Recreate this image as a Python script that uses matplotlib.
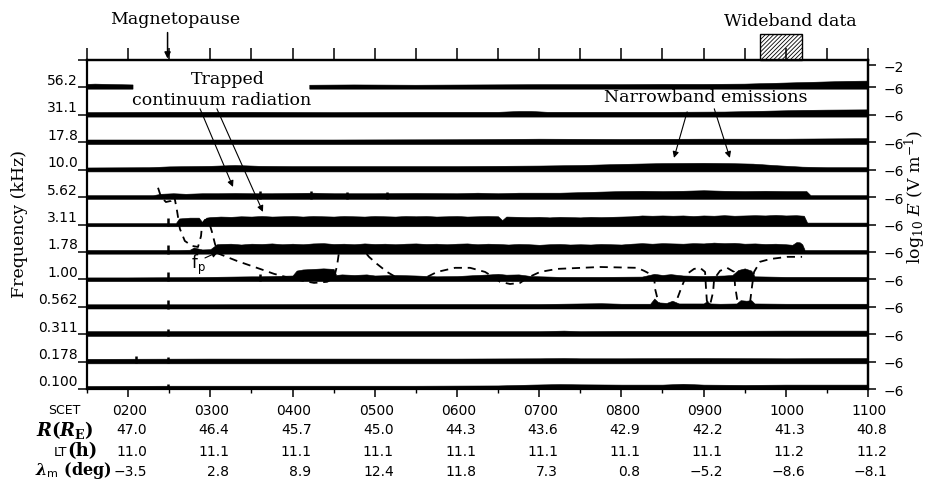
import numpy as np
import matplotlib as mpl
import matplotlib.pyplot as plt
import matplotlib.transforms as mtransforms
from matplotlib.patches import Rectangle

mpl.rcParams['mathtext.fontset'] = 'custom'
mpl.rcParams['mathtext.rm'] = 'DejaVu Serif:bold'
mpl.rcParams['mathtext.it'] = 'DejaVu Serif:italic:bold'
mpl.rcParams['mathtext.bf'] = 'DejaVu Serif:bold'
mpl.rcParams['mathtext.sf'] = 'DejaVu Sans'
mpl.rcParams['hatch.linewidth'] = 0.6

nan = np.nan

# channel centre frequencies (kHz), top row first
freq_labels = ['56.2', '31.1', '17.8', '10.0', '5.62', '3.11', '1.78', '1.00',
               '0.562', '0.311', '0.178', '0.100']

# ephemeris rows under the time axis
scet_hours = [2, 3, 4, 5, 6, 7, 8, 9, 10, 11]
scet_labels = ['0200', '0300', '0400', '0500', '0600', '0700', '0800', '0900', '1000', '1100']
r_re = [47.0, 46.4, 45.7, 45.0, 44.3, 43.6, 42.9, 42.2, 41.3, 40.8]
lt_h = [11.0, 11.1, 11.1, 11.1, 11.1, 11.1, 11.1, 11.1, 11.2, 11.2]
lam_m = [-3.5, 2.8, 8.9, 12.4, 11.8, 7.3, 0.8, -5.2, -8.6, -8.1]

# log10 E (V/m) envelope of each channel (time in hours SCET)
t56 = [1.5, 1.6, 1.75, 1.9, 2.06, 3.0, 4.21, 4.75, 5.5, 6.25, 7.0, 7.5, 8.0, 8.5, 9.0,
       9.5, 9.75, 10.0, 10.25, 10.5, 10.75, 11.0]
e56 = [-5.45, -5.4, -5.45, -5.5, -5.55, nan, -5.6, -5.55, -5.6, -5.55, -5.5, -5.5, -5.5,
       -5.45, -5.45, -5.4, -5.3, -5.2, -5.1, -5.0, -4.9, -4.85]

t31 = [1.5, 2.5, 3.5, 4.5, 5.5, 6.5, 6.75, 6.9, 7.1, 7.5, 8.5, 9.25, 9.6, 9.9, 10.2, 10.5, 11.0]
e31 = [-5.5, -5.45, -5.45, -5.5, -5.45, -5.45, -5.3, -5.3, -5.45, -5.45, -5.45, -5.4,
       -5.3, -5.2, -5.1, -5.05, -5.0]

t17 = [1.5, 3.0, 4.5, 6.0, 6.5, 7.0, 8.0, 9.0, 10.0, 10.5, 11.0]
e17 = [-5.5, -5.5, -5.5, -5.45, -5.4, -5.35, -5.4, -5.35, -5.35, -5.3, -5.25]

t10 = [1.5, 2.25, 2.5, 3.0, 3.3, 3.6, 4.0, 5.0, 6.0, 6.5, 7.0, 7.5, 7.75, 8.0, 8.5, 9.0,
       9.3, 9.6, 9.9, 10.2, 10.5, 11.0]
e10 = [-5.6, -5.55, -5.4, -5.3, -5.15, -5.3, -5.35, -5.35, -5.35, -5.3, -5.25, -5.15,
       -5.05, -4.95, -4.8, -4.75, -4.8, -4.9, -5.2, -5.45, -5.55, -5.55]

t5p6 = [1.5, 2.3, 2.4, 2.55, 2.7, 2.9, 3.1, 3.3, 3.5, 3.75, 4.0, 4.25, 4.5, 5.0, 5.5, 6.0,
        6.25, 6.5, 6.75, 7.0, 7.25, 7.5, 7.75, 8.0, 8.25, 8.5, 8.75, 9.0, 9.25, 9.5, 9.75,
        10.0, 10.25, 10.3, 11.0]
e5p6 = [-5.65, -5.65, -5.4, -5.3, -5.4, -5.3, -5.3, -5.25, -5.3, -5.3, -5.25, -5.2, -5.3,
        -5.3, -5.25, -5.3, -5.2, -5.3, -5.2, -5.2, -5.2, -5.1, -5.0, -4.9, -4.85, -4.9,
        -4.85, -4.75, -4.85, -4.9, -4.85, -4.9, -4.9, -5.65, -5.65]

t3p1 = [1.5, 2.0, 2.58, 2.62, 2.75, 2.86, 2.9, 2.95, 3.0,
        3.125, 3.25, 3.375, 3.5, 3.625, 3.75, 3.875, 4.0, 4.125, 4.25, 4.375, 4.5,
        4.625, 4.75, 4.875, 5.0, 5.125, 5.25, 5.375, 5.5, 5.625, 5.75, 5.875, 6.0,
        6.125, 6.25, 6.375, 6.5, 6.55, 6.6, 6.75, 6.875, 7.0, 7.125, 7.25, 7.375, 7.5,
        7.625, 7.75, 7.875, 8.0, 8.125, 8.25, 8.375, 8.5, 8.625, 8.75, 8.875, 9.0,
        9.125, 9.25, 9.375, 9.5, 9.625, 9.75, 9.875, 10.0, 10.125, 10.22, 10.26, 11.0]
e3p1 = [-5.75, -5.75, -5.75, -4.9, -4.75, -4.75, -5.55, -4.75, -4.65,
        -4.55, -4.6, -4.5, -4.55, -4.45, -4.55, -4.5, -4.45, -4.55, -4.45, -4.5, -4.55,
        -4.45, -4.5, -4.55, -4.45, -4.5, -4.55, -4.45, -4.5, -4.45, -4.55, -4.5, -4.45,
        -4.55, -4.5, -4.45, -4.5, -5.2, -4.55, -4.6, -4.65, -4.6, -4.7, -4.6, -4.65, -4.7,
        -4.6, -4.65, -4.6, -4.55, -4.5, -4.35, -4.4, -4.35, -4.4, -4.35, -4.45, -4.35,
        -4.4, -4.3, -4.4, -4.35, -4.3, -4.35, -4.25, -4.35, -4.3, -4.4, -5.65, -5.65]

t1p8 = [1.5, 2.0, 2.6, 2.75, 2.8, 2.9, 3.0, 3.08, 3.125, 3.25, 3.375, 3.5, 3.625, 3.75,
        3.875, 4.0, 4.125, 4.25, 4.375, 4.5, 4.625, 4.75, 4.875, 5.0, 5.125, 5.25, 5.375,
        5.5, 5.625, 5.75, 5.875, 6.0, 6.125, 6.25, 6.375, 6.5, 6.625, 6.75, 6.875, 7.0,
        7.125, 7.25, 7.375, 7.5, 7.625, 7.75, 7.875, 8.0, 8.125, 8.25, 8.375, 8.5, 8.625,
        8.75, 8.875, 9.0, 9.125, 9.25, 9.375, 9.5, 9.625, 9.75, 9.875, 10.0, 10.08, 10.13,
        10.17, 10.2, 10.23, 11.0]
e1p8 = [-5.65, -5.65, -5.65, -5.6, -5.2, -5.55, -5.5, -4.6, -4.55, -4.5, -4.65, -4.5,
        -4.55, -4.45, -4.6, -4.5, -4.6, -4.45, -4.4, -4.55, -4.5, -4.6, -4.45, -4.55, -4.5,
        -4.6, -4.5, -4.45, -4.55, -4.5, -4.6, -4.5, -4.45, -4.6, -4.5, -4.55, -4.65, -4.55,
        -4.6, -4.7, -4.6, -4.55, -4.65, -4.6, -4.65, -4.55, -4.6, -4.65, -4.5, -4.4, -4.5,
        -4.4, -4.45, -4.5, -4.4, -4.45, -4.3, -4.4, -4.35, -4.5, -4.45, -4.55, -4.5, -4.6,
        -4.7, -4.2, -4.25, -4.6, -5.65, -5.65]

t1p0 = [1.5, 2.0, 2.75, 3.0, 3.25, 3.5, 3.6, 3.75, 4.0, 4.05, 4.125, 4.25, 4.375, 4.5,
        4.53, 4.6, 4.75, 4.9, 5.0, 5.25, 5.5, 5.75, 6.0, 6.25, 6.4, 6.5, 6.6, 6.75, 6.9,
        7.25, 7.75, 8.25, 8.4, 8.5, 8.6, 8.75, 9.0, 9.25, 9.35, 9.42, 9.5, 9.58, 9.62, 10.0,
        10.5, 11.0]
e1p0 = [-5.65, -5.65, -5.6, -5.55, -5.5, -5.45, -5.45, -5.4, -5.3, -4.4, -4.2, -4.1, -4.0,
        -4.1, -5.2, -5.1, -5.2, -5.1, -5.3, -5.2, -5.3, -5.45, -5.4, -5.2, -5.1, -5.0,
        -5.15, -5.1, -5.4, -5.55, -5.55, -5.5, -5.0, -5.2, -5.05, -5.3, -5.4, -5.3, -5.2,
        -4.3, -4.0, -4.4, -5.45, -5.55, -5.55, -5.55]

t0p56 = [1.5, 3.0, 4.5, 6.0, 7.0, 7.5, 7.75, 8.0, 8.35, 8.4, 8.45, 8.55, 8.62, 8.7, 9.0,
         9.04, 9.08, 9.2, 9.4, 9.45, 9.52, 9.58, 9.62, 10.0, 11.0]
e0p56 = [-5.55, -5.55, -5.5, -5.5, -5.5, -5.4, -5.35, -5.45, -5.45, -4.5, -5.2, -5.3, -4.9,
         -5.4, -5.4, -5.0, -5.4, -5.45, -5.4, -4.8, -4.9, -4.8, -5.4, -5.45, -5.45]

t0p31 = [1.5, 3.0, 4.5, 6.0, 7.0, 7.3, 7.5, 8.0, 9.0, 10.0, 11.0]
e0p31 = [-5.45, -5.45, -5.45, -5.45, -5.45, -5.35, -5.45, -5.4, -5.4, -5.35, -5.35]

t0p18 = [1.5, 3.0, 4.5, 6.0, 7.0, 7.3, 7.5, 8.0, 9.0, 10.0, 11.0]
e0p18 = [-5.5, -5.45, -5.45, -5.45, -5.4, -5.35, -5.4, -5.4, -5.35, -5.4, -5.35]

t0p10 = [1.5, 2.5, 3.5, 4.5, 5.5, 6.5, 6.9, 7.25, 7.5, 8.0, 8.5, 8.75, 9.0, 9.5, 10.0,
         10.5, 11.0]
e0p10 = [-5.45, -5.4, -5.4, -5.4, -5.4, -5.35, -5.2, -5.1, -5.15, -5.2, -5.2, -5.05, -5.2,
         -5.25, -5.2, -5.2, -5.2]

# impulsive spikes
spike_t = [2.48, 2.48, 2.48, 2.48, 2.48, 2.48, 2.48, 2.1, 3.6, 4.22, 4.66, 5.15, 3.6]
spike_band = ['3.11', '1.78', '1.00', '0.562', '0.311', '0.178', '0.100', '0.178',
              '5.62', '5.62', '5.62', '5.62', '1.00']
spike_e = [-4.75, -4.75, -4.7, -4.85, -5.0, -5.1, -5.0, -5.0, -4.9, -4.9, -5.0, -5.0, -4.95]

# electron plasma frequency f_p, given as position on the channel scale (0 = 0.100 kHz row)
fp_t = [2.364, 2.40, 2.46, 2.52, 2.56, 2.57, 2.595, 2.63, 2.69, 2.777,
        2.85, 2.887, 2.90, 2.936, 2.984, 3.02, 3.057, 3.106, 3.325, 3.605,
        3.775, 4.018, 4.262, 4.42, 4.505, 4.541, 4.566, 4.627, 4.773, 4.87,
        4.93, 5.028, 5.15, 5.235, 5.43, 5.612, 5.758, 5.977, 6.16, 6.342,
        6.44, 6.524, 6.646, 6.768, 6.853, 7.011, 7.218, 7.741, 8.191, 8.276,
        8.398, 8.41, 8.434, 8.47, 8.556, 8.63, 8.678, 8.738, 8.80, 8.884,
        8.957, 9.018, 9.03, 9.04, 9.079, 9.116, 9.128, 9.20, 9.286, 9.371,
        9.383, 9.408, 9.444, 9.53, 9.566, 9.59, 9.614, 9.687, 9.809, 10.016, 10.198]
fp_band = [7.34, 7.01, 6.82, 6.86, 7.04, 6.90, 6.50, 5.84, 5.40, 5.22,
           5.18, 5.58, 6.02, 6.17, 6.09, 5.73, 5.29, 4.93, 4.67, 4.38,
           4.20, 4.01, 3.87, 3.91, 4.05, 4.49, 5.00, 5.15, 5.15, 5.04,
           4.82, 4.56, 4.27, 4.12, 4.01, 4.05, 4.27, 4.42, 4.42, 4.27,
           4.09, 3.91, 3.83, 3.87, 4.05, 4.27, 4.38, 4.45, 4.42, 4.31,
           4.12, 3.65, 3.36, 3.03, 2.92, 2.99, 3.28, 3.76, 4.20, 4.38,
           4.42, 4.27, 3.65, 3.21, 3.07, 3.54, 4.01, 4.31, 4.42, 4.27,
           3.76, 3.28, 3.03, 2.99, 3.18, 3.76, 4.27, 4.64, 4.74, 4.82, 4.82]

magnetopause_t = 2.48
wideband_start, wideband_end = 9.69, 10.2

traces = [(t56, e56), (t31, e31), (t17, e17), (t10, e10), (t5p6, e5p6), (t3p1, e3p1),
          (t1p8, e1p8), (t1p0, e1p0), (t0p56, e0p56), (t0p31, e0p31), (t0p18, e0p18),
          (t0p10, e0p10)]

e_floor = -6.32  # bottom of each trace
decades = 5.0    # each strip spans 5 decades of E


def strip_y(row, e):
    # row 0 is the top channel; baseline of the bottom channel sits at y=0
    return (len(freq_labels) - 1 - row) + (np.asarray(e, dtype=float) + 6) / decades


fig = plt.figure(figsize=(9.45, 4.81), dpi=100)
ax = fig.add_axes([87 / 945, 1 - 390 / 481, 781 / 945, 329 / 481])

for i, (t, e) in enumerate(traces):
    ax.fill_between(t, strip_y(i, e_floor), strip_y(i, e), color='black', lw=0.4)

for t, b, e in zip(spike_t, spike_band, spike_e):
    i = freq_labels.index(b)
    ax.vlines(t, strip_y(i, e_floor), strip_y(i, e), color='black', lw=1.8)

ax.plot(fp_t, fp_band, color='black', lw=1.3, ls=(0, (4.5, 3.2)))

ax.set_xlim(1.5, 11)
ax.set_ylim(0, 12)
for s in ax.spines.values():
    s.set_linewidth(1.6)

# time axis
ax.set_xticks(scet_hours)
ax.set_xticks(np.arange(1.5, 11, 1.0), minor=True)
ax.tick_params(axis='x', which='major', direction='out', length=6, width=1.1,
               labelbottom=False, top=False)
ax.tick_params(axis='x', which='minor', direction='out', length=3, width=1.0, top=False)

top = ax.secondary_xaxis('top')
top.set_xticks(np.arange(1.5, 11.01, 0.5))
top.tick_params(direction='out', length=8.6, width=1.1, labeltop=False)
top.spines['top'].set_linewidth(1.6)

# frequency channels
ax.set_yticks(np.arange(13))
ax.set_yticklabels([])
ax.set_yticks(np.arange(12) + 0.33, labels=freq_labels[::-1], minor=True)
ax.tick_params(axis='y', which='major', direction='out', length=6.5, width=1.1)
ax.tick_params(axis='y', which='minor', length=0, pad=6.5, labelsize=10)

right = ax.secondary_yaxis('right')
right.set_yticks(list(range(12)) + [11.8], labels=['\u22126'] * 12 + ['\u22122'])
right.tick_params(direction='out', length=6, width=1.1, pad=5, labelsize=10)
right.spines['right'].set_linewidth(1.6)

# ephemeris rows
shift = mtransforms.blended_transform_factory(ax.transData, ax.transAxes) + \
    mtransforms.ScaledTranslation(0.19, 0, fig.dpi_scale_trans)
fmt = lambda v: ('%.1f' % v).replace('-', '\u2212')
for h, s, r, l, lam in zip(scet_hours, scet_labels, r_re, lt_h, lam_m):
    ax.text(h, -0.064, s, transform=shift, ha='right', va='center', fontsize=10)
    ax.text(h, -0.122, fmt(r), transform=shift, ha='right', va='center', fontsize=10)
    ax.text(h, -0.188, fmt(l), transform=shift, ha='right', va='center', fontsize=10)
    ax.text(h, -0.249, fmt(lam), transform=shift, ha='right', va='center', fontsize=10)

px = lambda x, y: (x / 945, 1 - y / 481)
fig.text(*px(64, 411), 'SCET', ha='center', va='center', fontsize=9)
fig.text(*px(65, 430), r'$\mathit{R}(\mathit{R}_{\mathrm{E}})$', ha='center', va='center',
         fontsize=13)
fig.text(*px(67, 453), 'LT', ha='right', va='center', fontsize=9.5)
fig.text(*px(67, 451), '(h)', ha='left', va='center', fontsize=13, family='DejaVu Serif',
         weight='bold')
fig.text(*px(35, 471), r'$\lambda_{\mathsf{m}}$ (deg)', ha='left', va='center', fontsize=11.5,
         family='DejaVu Serif', weight='bold')

fig.text(*px(20, 224), 'Frequency (kHz)', rotation=90, ha='center', va='center',
         fontsize=12.5, family='DejaVu Serif')
fig.text(*px(915, 197), r'$\log_{10}\,E\ (\mathrm{V\ m^{-1}})$', rotation=90,
         ha='center', va='center', fontsize=12.5, math_fontfamily='dejavuserif')

# annotations
serif = dict(family='DejaVu Serif', fontsize=12.5, ha='center', va='center')
head = dict(arrowstyle='-|>', color='black', lw=0.8, mutation_scale=9, shrinkA=0, shrinkB=0)

ax.text(2.57, 13.5, 'Magnetopause', clip_on=False, **serif)
ax.annotate('', xy=(magnetopause_t, 12.05), xytext=(magnetopause_t, 13.0),
            arrowprops=dict(head, lw=1.1), annotation_clip=False)

ax.add_patch(Rectangle((wideband_start, 12), wideband_end - wideband_start, 0.95,
                       fill=False, hatch='////////', edgecolor='black', lw=1.0, clip_on=False))
ax.text(10.05, 13.43, 'Wideband data', clip_on=False, **serif)

ax.text(3.215, 11.31, 'Trapped', **serif)
ax.text(3.14, 10.57, 'continuum radiation', **serif)
ax.annotate('', xy=(3.276, 7.37), xytext=(2.875, 10.22), arrowprops=head)
ax.annotate('', xy=(3.64, 6.46), xytext=(3.08, 10.22), arrowprops=head)

ax.text(9.03, 10.66, 'Narrowband emissions', **serif)
ax.annotate('', xy=(8.64, 8.43), xytext=(8.80, 10.11), arrowprops=head)
ax.annotate('', xy=(9.32, 8.43), xytext=(9.13, 10.22), arrowprops=head)

ax.text(2.85, 4.56, r'$\mathrm{f_p}$', ha='center', va='center', fontsize=12,
        math_fontfamily='dejavusans')
ax.annotate('', xy=(3.094, 5.0), xytext=(2.935, 4.78), arrowprops=head)

fig.savefig('out.png', dpi=100)
